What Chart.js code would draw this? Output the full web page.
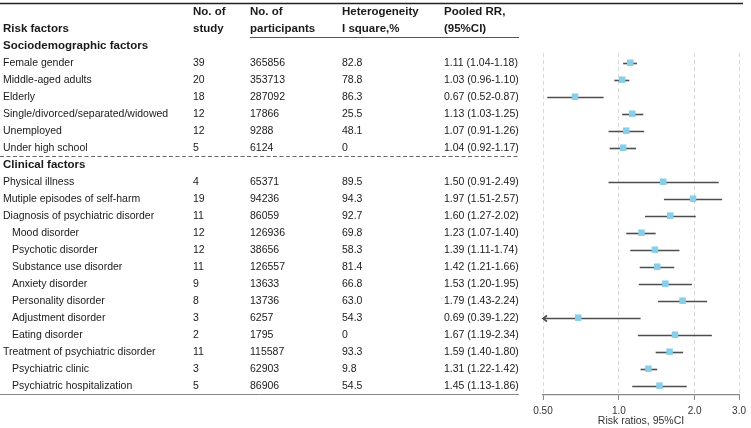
<!DOCTYPE html>
<html>
<head>
<meta charset="utf-8">
<script src="https://cdn.jsdelivr.net/npm/chart.js@4/dist/chart.umd.min.js"></script>
<style>
  html, body { margin: 0; padding: 0; background: #fff; }
  canvas { display: block; }
</style>
</head>
<body>
<canvas id="forest" width="751" height="428"></canvas>
<script>
// Forest plot of pooled risk ratios with the study table on the left
// - table text is placed on the same y scale as the markers

// ─────────────────── data ───────────────────
const factors = [
  "Sociodemographic factors",
  "Female gender", "Middle-aged adults", "Elderly", "Single/divorced/separated/widowed",
  "Unemployed", "Under high school",
  "Clinical factors",
  "Physical illness", "Mutiple episodes of self-harm", "Diagnosis of psychiatric disorder",
  "Mood disorder", "Psychotic disorder", "Substance use disorder", "Anxiety disorder",
  "Personality disorder", "Adjustment disorder", "Eating disorder",
  "Treatment of psychiatric disorder", "Psychiatric clinic", "Psychiatric hospitalization",
];
// 0 = section heading, 1 = factor, 2 = sub-factor (indented)
const levels = [0, 1, 1, 1, 1, 1, 1, 0, 1, 1, 1, 2, 2, 2, 2, 2, 2, 2, 1, 2, 2];
const nStudy = [null, 39, 20, 18, 12, 12, 5, null, 4, 19, 11, 12, 12, 11, 9, 8, 3, 2, 11, 3, 5];
const nParticipants = [null, 365856, 353713, 287092, 17866, 9288, 6124, null,
  65371, 94236, 86059, 126936, 38656, 126557, 13633, 13736, 6257, 1795, 115587, 62903, 86906];
const iSquare = [null, "82.8", "78.8", "86.3", "25.5", "48.1", "0", null,
  "89.5", "94.3", "92.7", "69.8", "58.3", "81.4", "66.8", "63.0", "54.3", "0", "93.3", "9.8", "54.5"];
const rr = [null, 1.11, 1.03, 0.67, 1.13, 1.07, 1.04, null,
  1.50, 1.97, 1.60, 1.23, 1.39, 1.42, 1.53, 1.79, 0.69, 1.67, 1.59, 1.31, 1.45];
const ciLow = [null, 1.04, 0.96, 0.52, 1.03, 0.91, 0.92, null,
  0.91, 1.51, 1.27, 1.07, 1.11, 1.21, 1.20, 1.43, 0.39, 1.19, 1.40, 1.22, 1.13];
const ciHigh = [null, 1.18, 1.10, 0.87, 1.25, 1.26, 1.17, null,
  2.49, 2.57, 2.02, 1.40, 1.74, 1.66, 1.95, 2.24, 1.22, 2.34, 1.80, 1.42, 1.86];

const tickValues = [0.5, 1, 2, 3];
const tickLabels = ["0.50", "1.0", "2.0", "3.0"];

const headers = [
  { x: 3,   lines: ["", "Risk factors"] },
  { x: 193, lines: ["No. of", "study"] },
  { x: 250, lines: ["No. of", "participants"] },
  { x: 342, lines: ["Heterogeneity", "I square,%"] },
  { x: 444, lines: ["Pooled RR,", "(95%CI)"] },
];

const FONT = "'Liberation Sans', Arial, Helvetica, sans-serif";
const TEXT = "#1a1a1a";

// ─────────────────── plugins ───────────────────
const ciLines = {
  id: "ciLines",
  beforeDatasetsDraw(chart) {
    const { ctx, scales: { x, y } } = chart;
    ctx.save();
    ctx.strokeStyle = "#4d4d4d";
    ctx.lineWidth = 1.6;
    rr.forEach((v, i) => {
      if (v === null) return;
      const py = Math.round(y.getPixelForValue(i)) + 0.5;
      const clipped = ciLow[i] < x.min;
      const x1 = x.getPixelForValue(Math.max(ciLow[i], x.min));
      const x2 = x.getPixelForValue(Math.min(ciHigh[i], x.max));
      ctx.beginPath();
      ctx.moveTo(x1, py);
      ctx.lineTo(x2, py);
      ctx.stroke();
      if (clipped) {
        ctx.beginPath();
        ctx.moveTo(x1 + 4, py - 3);
        ctx.lineTo(x1, py);
        ctx.lineTo(x1 + 4, py + 3);
        ctx.stroke();
      }
    });
    ctx.restore();
  },
};

const table = {
  id: "table",
  afterDraw(chart) {
    const { ctx, scales: { y } } = chart;
    const rowY = r => y.getPixelForValue(r);
    ctx.save();
    ctx.fillStyle = TEXT;
    ctx.textBaseline = "middle";
    ctx.textAlign = "left";

    // column headings
    ctx.font = `bold 11.5px ${FONT}`;
    headers.forEach(h => {
      h.lines.forEach((t, k) => { if (t) ctx.fillText(t, h.x, rowY(k - 2)); });
    });

    // rows
    factors.forEach((name, i) => {
      const py = rowY(i);
      if (levels[i] === 0) {
        ctx.font = `bold 11.5px ${FONT}`;
        ctx.fillText(name, 3, py);
        return;
      }
      ctx.font = `10.5px ${FONT}`;
      ctx.fillText(name, levels[i] === 2 ? 12 : 3, py);
      ctx.fillText(String(nStudy[i]), headers[1].x, py);
      ctx.fillText(String(nParticipants[i]), headers[2].x, py);
      ctx.fillText(iSquare[i], headers[3].x, py);
      ctx.fillText(`${rr[i].toFixed(2)} (${ciLow[i].toFixed(2)}-${ciHigh[i].toFixed(2)})`, headers[4].x, py);
    });

    // rules
    const hline = (x1, x2, r, color, width, dash) => {
      const py = Math.round(rowY(r)) + 0.5;
      ctx.beginPath();
      ctx.strokeStyle = color;
      ctx.lineWidth = width;
      ctx.setLineDash(dash || []);
      ctx.moveTo(x1, py);
      ctx.lineTo(x2, py);
      ctx.stroke();
    };
    hline(0, 743, -2.5, "#222", 1.5);
    hline(250, 519, -0.5, "#555", 1);
    hline(0, 519, 6.5, "#666", 1, [4, 2.5]);
    hline(0, 519, 20.5, "#888", 1);
    ctx.restore();
  },
};

// ─────────────────── chart ───────────────────
const points = rr.map((v, i) => (v === null ? null : { x: v, y: i })).filter(Boolean);

new Chart(document.getElementById("forest"), {
  type: "scatter",
  data: {
    datasets: [{
      data: points,
      pointStyle: "rect",
      pointRadius: 4.6,
      pointHoverRadius: 4.6,
      backgroundColor: "#87ceeb",
      borderWidth: 0,
    }],
  },
  options: {
    responsive: false,
    animation: false,
    events: [],
    layout: { padding: { left: 543, right: 9, top: 53, bottom: 0 } },
    plugins: { legend: { display: false }, tooltip: { enabled: false } },
    scales: {
      x: {
        type: "logarithmic",
        min: 0.5,
        max: 3,
        afterBuildTicks: axis => { axis.ticks = tickValues.map(v => ({ value: v })); },
        afterFit: axis => { axis.height = 33; },
        ticks: {
          callback: (v, i) => tickLabels[i],
          color: "#333",
          font: { family: FONT, size: 10 },
          padding: 5,
          maxRotation: 0,
          autoSkip: false,
        },
        grid: { color: "#d9d9d9", tickColor: "#888", tickLength: 5, lineWidth: 1 },
        border: { color: "#888", width: 1.2, dash: [4, 3] },
        title: {
          display: true,
          text: "Risk ratios, 95%CI",
          color: "#333",
          font: { family: FONT, size: 10.5 },
          padding: { top: 0, bottom: 1 },
        },
      },
      y: {
        type: "linear",
        display: false,
        reverse: true,
        min: 0.4294,
        max: 20.547,
      },
    },
  },
  plugins: [ciLines, table],
});
</script>
</body>
</html>
